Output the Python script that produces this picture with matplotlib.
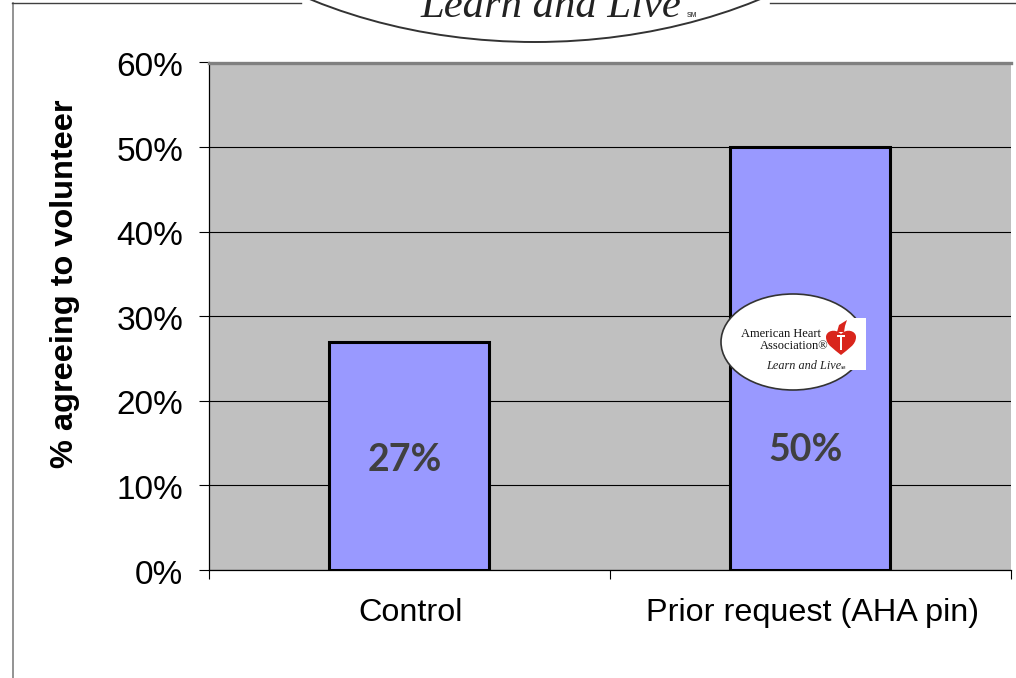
""" Volunteering rates by condition, bar chart with the AHA logo. """

import matplotlib

matplotlib.use("Agg")
import matplotlib.patches as mpatches
import matplotlib.pyplot as plt
from matplotlib.path import Path
from matplotlib.transforms import ScaledTranslation

WIDTH, HEIGHT = 1016, 678

categories = ["Control", "Prior request (AHA pin)"]
agreeing = [27, 50]
y_ticks = [0, 10, 20, 30, 40, 50, 60]

plt.rcParams["font.family"] = ["Liberation Sans", "DejaVu Sans"]

fig = plt.figure(figsize=(WIDTH / 100, HEIGHT / 100), dpi=100, facecolor="white")

# plot area, placed in pixels
left, right, top, bottom = 208.5, 1010.5, 62.5, 570
ax = fig.add_axes(
    [left / WIDTH, 1 - bottom / HEIGHT, (right - left) / WIDTH, (bottom - top) / HEIGHT]
)
ax.set_facecolor("#c0c0c0")
ax.set_axisbelow(True)
ax.grid(axis="y", color="black", linewidth=0.8)

xs = range(len(categories))
ax.bar(xs, agreeing, width=0.4, color="#9999ff", edgecolor="black", linewidth=2.2, zorder=3)

ax.set_xlim(-0.5, 1.5)
ax.set_ylim(0, 60)
ax.set_yticks(y_ticks)
ax.set_yticklabels([f"{t}%" for t in y_ticks], fontsize=24)
ax.set_xticks(list(xs))
ax.set_xticklabels(categories, fontsize=23.3)
ax.tick_params(axis="x", which="major", length=0, pad=20)
ax.tick_params(axis="y", length=7, width=0.8, pad=11)
ax.set_xticks([-0.5, 0.5, 1.5], minor=True)
ax.tick_params(axis="x", which="minor", length=6.5, width=0.8)

# category labels sit a touch right of the bar centres, percent labels a touch low
for label in ax.get_xticklabels():
    label.set_transform(label.get_transform() + ScaledTranslation(2 / 100, 0, fig.dpi_scale_trans))
for label in ax.get_yticklabels():
    label.set_transform(label.get_transform() + ScaledTranslation(0, -1.5 / 100, fig.dpi_scale_trans))

ax.spines["top"].set_color("#808080")
ax.spines["top"].set_linewidth(2.4)
ax.spines["right"].set_visible(False)
ax.spines["left"].set_linewidth(0.9)
ax.spines["bottom"].set_linewidth(0.9)

fig.text(
    65 / WIDTH, 1 - 284 / HEIGHT, "% agreeing to volunteer", rotation=90, fontsize=23.4,
    fontweight="bold", ha="center", va="center",
)

# value labels sit inside the bars
label_heights = [13.0, 14.2]
for x, value, h in zip(xs, agreeing, label_heights):
    ax.text(
        x - 0.01, h, f"{value}%", ha="center", va="center", fontsize=27,
        fontweight="bold", family=["Lato", "DejaVu Sans"], color="#404040", zorder=4,
    )

# overlay in pixel coordinates for the slide frame and logos
over = fig.add_axes([0, 0, 1, 1], zorder=5)
over.set_xlim(0, WIDTH)
over.set_ylim(HEIGHT, 0)
over.axis("off")
over.patch.set_alpha(0)

# slide frame, broken at the top by the large logo
frame = "#808080"
over.plot([12.5, 12.5], [3, HEIGHT], color=frame, linewidth=1.2)
over.plot([12, 301], [3, 3], color="#404040", linewidth=1)
over.plot([770, WIDTH], [3, 3], color="#404040", linewidth=1)

# large logo cut off by the top edge
over.add_patch(
    mpatches.Ellipse((535, -251), 865, 586, facecolor="white", edgecolor="#333333", linewidth=1.4)
)
over.text(
    551, 17, "Learn and Live", family="Liberation Serif", style="italic",
    fontsize=30.7, ha="center", va="baseline", color="#222222",
)
over.text(692, 17, "SM", fontsize=5, fontweight="bold", ha="center", va="baseline", color="#555555")

# small logo on the second bar
over.add_patch(
    mpatches.Ellipse((793, 342), 144, 96, facecolor="white", edgecolor="#333333", linewidth=1.2)
)
over.add_patch(mpatches.Rectangle((793, 318), 73, 52, facecolor="white", edgecolor="none"))
over.text(
    781, 334, "American Heart", family="Liberation Serif", fontsize=9,
    ha="center", va="center", color="#111111",
)
over.text(
    794, 346, "Association®", family="Liberation Serif", fontsize=9,
    ha="center", va="center", color="#111111",
)
over.text(
    804, 366, "Learn and Live", family="Liberation Serif", style="italic",
    fontsize=8.8, ha="center", va="center", color="#222222",
)
over.text(844, 368, "SM", fontsize=2.5, fontweight="bold", ha="center", va="center", color="#555555")

# heart with torch
heart = Path(
    [
        (841, 355), (834, 349), (826, 345), (826, 337),
        (826, 331), (835, 328), (841, 334),
        (847, 328), (856, 331), (856, 337),
        (856, 345), (848, 349), (841, 355),
    ],
    [Path.MOVETO] + [Path.CURVE4] * 12,
)
over.add_patch(mpatches.PathPatch(heart, facecolor="#d9251c", edgecolor="none"))
over.add_patch(mpatches.Rectangle((840, 335), 2, 15, facecolor="white", edgecolor="none"))
over.add_patch(mpatches.Rectangle((837, 335), 8, 2, facecolor="white", edgecolor="none"))
over.add_patch(
    mpatches.Polygon(
        [(837, 332), (839, 325), (847, 320), (845, 326), (844, 332)],
        closed=True, facecolor="#d9251c", edgecolor="none",
    )
)

fig.savefig("out.png", dpi=100, facecolor="white")
